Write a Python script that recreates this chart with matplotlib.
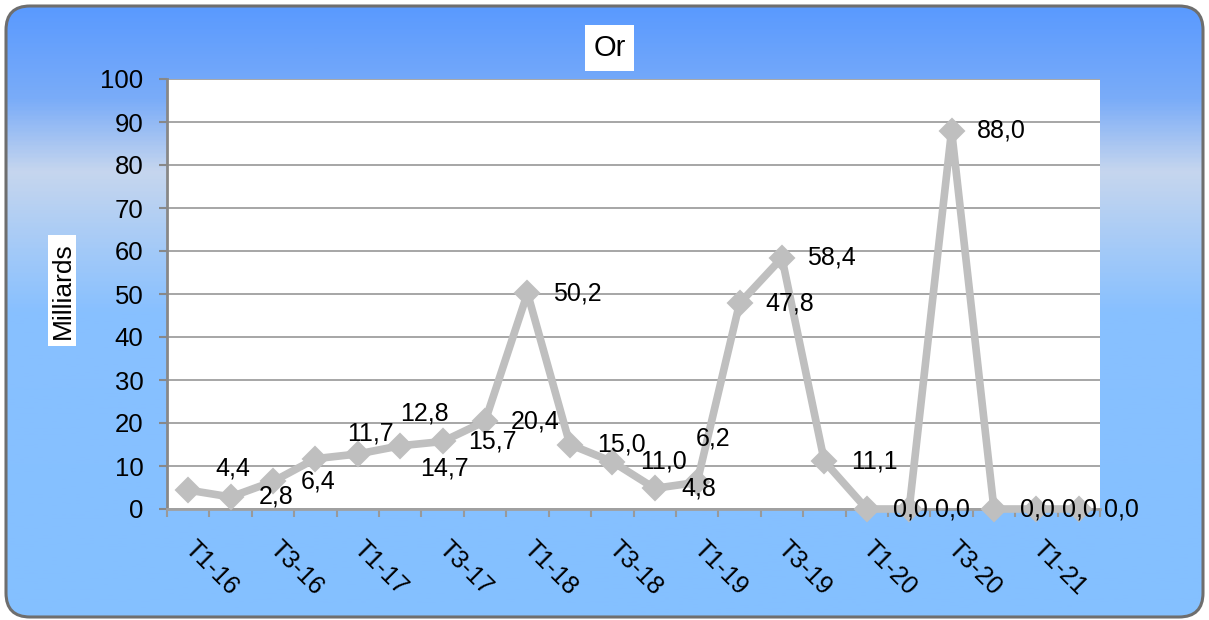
import numpy as np
import matplotlib
matplotlib.use("Agg")
import matplotlib.pyplot as plt
from matplotlib.patches import FancyBboxPatch, Rectangle
from matplotlib.colors import LinearSegmentedColormap

# ---------------- data ----------------
quarters = ["T1-16", "T2-16", "T3-16", "T4-16",
            "T1-17", "T2-17", "T3-17", "T4-17",
            "T1-18", "T2-18", "T3-18", "T4-18",
            "T1-19", "T2-19", "T3-19", "T4-19",
            "T1-20", "T2-20", "T3-20", "T4-20",
            "T1-21", "T2-21"]
values = [4.4, 2.8, 6.4, 11.7, 12.8, 14.7, 15.7, 20.4, 50.2, 15.0, 11.0,
          4.8, 6.2, 47.8, 58.4, 11.1, 0.0, 0.0, 88.0, 0.0, 0.0, 0.0]
y_ticks = [0, 10, 20, 30, 40, 50, 60, 70, 80, 90, 100]
title_text = "Or"
ylabel_text = "Milliards"

# label offsets in pixels (dx right, dy down) -- style only
label_offsets = [(45, -22), (46, 0), (45, 0), (55, -25), (67, -40), (44, 23),
                 (50, 0), (50, 0), (50, 0), (52, 0), (51, 0), (44, 0),
                 (16, -44), (50, 0), (49, 0), (50, 0), (44, 0), (43, 0),
                 (50, 0), (43, 0), (43, 0), (43, 0)]

FONT = ['Liberation Sans', 'DejaVu Sans']
plt.rcParams['font.family'] = FONT

W, H = 1209, 620
fig = plt.figure(figsize=(W / 100, H / 100), dpi=100)
fig.patch.set_facecolor('white')

# ---------------- background (pixel coordinates) ----------------
bg = fig.add_axes([0, 0, 1, 1])
bg.set_xlim(0, W)
bg.set_ylim(H, 0)
bg.axis('off')

cmap = LinearSegmentedColormap.from_list(
    'bg', [(0.0, '#5A9AFF'), (0.15, '#7AACF8'), (0.27, '#C6D6EE'),
           (0.5, '#88C0FF'), (1.0, '#84C0FF')])
grad = np.linspace(0, 1, 400).reshape(-1, 1)
border = FancyBboxPatch((6, 6), W - 12, H - 9,
                        boxstyle="round,pad=0,rounding_size=24",
                        facecolor='none', edgecolor='#6E6E6E', linewidth=2.2,
                        zorder=3)
bg.add_patch(border)
img = bg.imshow(grad, cmap=cmap, aspect='auto', extent=(6, W - 6, H - 3, 6),
                zorder=1)
img.set_clip_path(border)

# title box and y label box
bg.add_patch(Rectangle((585, 25), 49, 46, facecolor='white', edgecolor='none', zorder=4))
bg.text(609.5, 48, title_text, ha='center', va='center', fontsize=21,
        color='black', zorder=5)
bg.add_patch(Rectangle((48, 235), 28, 111, facecolor='white', edgecolor='none', zorder=4))
bg.text(62.5, 291, ylabel_text, ha='center', va='center', rotation=90,
        fontsize=19, color='black', zorder=5)

# ---------------- main axes ----------------
L, R, T, B = 167, 1100, 79, 509
ax = fig.add_axes([L / W, (H - B) / H, (R - L) / W, (B - T) / H])
ax.set_facecolor('white')
x = np.arange(len(quarters))
ax.set_xlim(-0.5, len(quarters) - 0.5)
ax.set_ylim(0, 100)

ax.set_yticks(y_ticks)
ax.set_yticklabels([str(v) for v in y_ticks])
ax.tick_params(axis='y', length=6, width=1.5, color='#888888', pad=11,
               labelsize=18.5)
ax.yaxis.grid(True, color='#A6A6A6', linewidth=1.4)
ax.set_axisbelow(True)

ax.set_xticks(x[::2])
ax.set_xticklabels(quarters[::2], rotation=-45, ha='left', va='center',
                   rotation_mode='anchor', fontsize=18)
ax.set_xticks(np.arange(-0.5, len(quarters)), minor=True)
ax.tick_params(axis='x', which='major', length=0, pad=26)
ax.tick_params(axis='x', which='minor', length=6, width=1.5, color='#999999')

for s in ['top', 'right']:
    ax.spines[s].set_visible(False)
ax.spines['left'].set_color('#888888')
ax.spines['left'].set_linewidth(2)
ax.spines['bottom'].set_color('#A0A0A0')
ax.spines['bottom'].set_linewidth(2)

ax.plot(x, values, color='#BFBFBF', linewidth=5.5, marker='D', markersize=12.5,
        markeredgewidth=1.5, markeredgecolor='#BFBFBF', markerfacecolor='#BFBFBF',
        zorder=3, clip_on=False)

for i, v in enumerate(values):
    dx, dy = label_offsets[i]
    ax.annotate(f"{v:.1f}".replace('.', ','), xy=(x[i], v), xytext=(dx, -dy),
                textcoords='offset pixels', ha='center', va='center',
                fontsize=18, color='black', annotation_clip=False, zorder=4)

fig.savefig('out.png', dpi=100, facecolor='white')
